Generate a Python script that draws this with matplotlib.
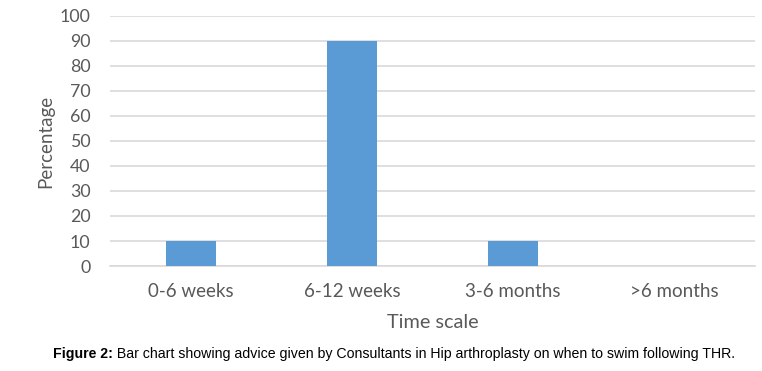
import matplotlib.pyplot as plt

categories = ["0-6 weeks", "6-12 weeks", "3-6 months", ">6 months"]
percentages = [10, 90, 10, 0]
y_ticks = list(range(0, 101, 10))

BAR_COLOR = "#5B9BD5"
GRID_COLOR = "#D9D9D9"
TEXT_COLOR = "#595959"

plt.rcParams['font.family'] = ['Lato', 'DejaVu Sans']

fig = plt.figure(figsize=(7.62, 3.71), dpi=100)
ax = fig.add_axes([0.1444, 0.283, 0.8465, 0.674])

x = range(len(categories))
ax.bar(x, percentages, width=0.31, color=BAR_COLOR, zorder=3)

ax.set_xlim(-0.5, len(categories) - 0.5)
ax.set_ylim(0, 100)
ax.set_yticks(y_ticks)
ax.set_xticks(list(x))
ax.set_xticklabels(categories)
ax.grid(True, axis='y', color=GRID_COLOR, linewidth=1.2, zorder=0)
ax.tick_params(axis='x', length=0, labelsize=13.5, colors=TEXT_COLOR, pad=12.5)
ax.tick_params(axis='y', length=0, labelsize=12.8, colors=TEXT_COLOR, pad=14)

for side in ['top', 'right', 'left']:
    ax.spines[side].set_visible(False)
ax.spines['bottom'].set_color(GRID_COLOR)
ax.spines['bottom'].set_linewidth(1.2)

ax.set_xlabel("Time scale", fontsize=14.3, color=TEXT_COLOR, labelpad=10)
ax.set_ylabel("Percentage", fontsize=13.5, color=TEXT_COLOR, labelpad=4)

cap = ['Liberation Sans', 'DejaVu Sans']
t1 = fig.text(0, 0.047, "Figure 2:", fontsize=10.2, fontweight='bold', family=cap,
              ha='right', va='center')
t2 = fig.text(0, 0.047, " Bar chart showing advice given by Consultants in Hip arthroplasty on when to swim following THR.",
              fontsize=10.2, family=cap, ha='left', va='center')

# centre the two caption pieces together
fig.canvas.draw()
r = fig.canvas.get_renderer()
w1 = t1.get_window_extent(r).width
w2 = t2.get_window_extent(r).width
split = (394 - (w1 + w2) / 2 + w1) / 762
t1.set_x(split)
t2.set_x(split)

fig.savefig("out.png", dpi=100)
